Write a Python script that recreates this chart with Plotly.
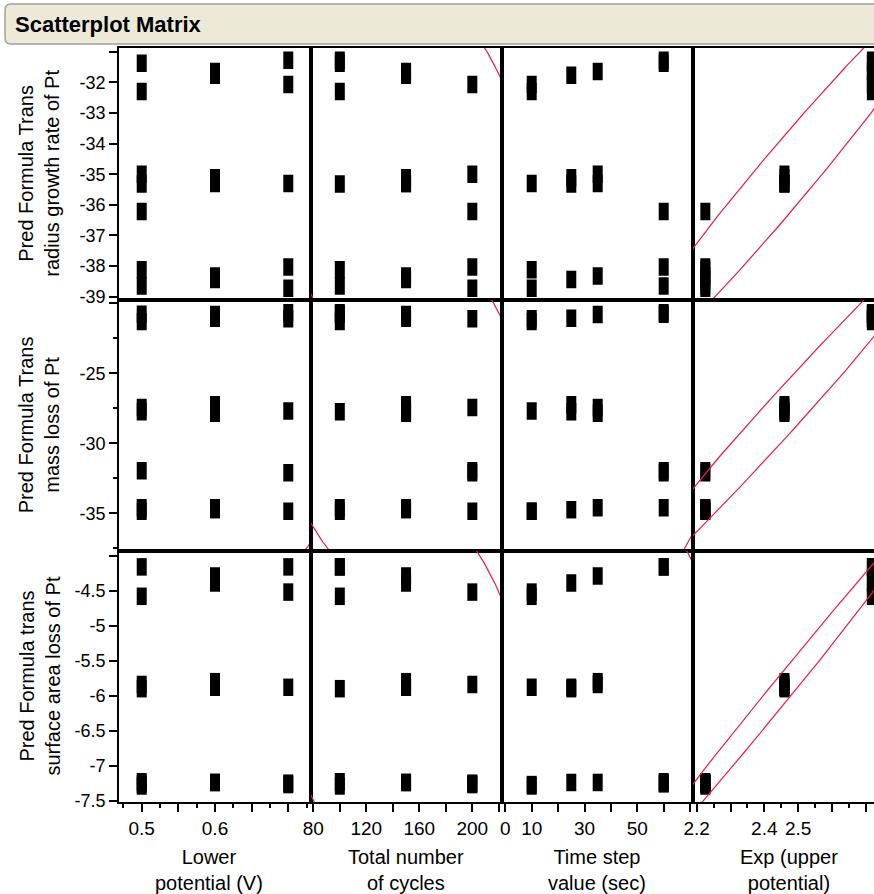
import numpy as np
import plotly.graph_objects as go
from plotly.subplots import make_subplots

# ---- run settings (factors) ----
lower_potential = [0.5, 0.7, 0.6, 0.6, 0.5, 0.7, 0.5, 0.5, 0.6, 0.6, 0.7, 0.5, 0.5, 0.7, 0.6, 0.6, 0.5, 0.7]
total_cycles = [100, 100, 150, 150, 100, 200, 200, 100, 150, 150, 150, 200, 100, 200, 150, 150, 100, 200]
time_step = [60, 60, 25, 35, 10, 10, 35, 25, 25, 35, 10, 60, 10, 60, 25, 35, 60, 10]
upper_potential = [1.0, 1.0, 1.0, 1.0, 1.0, 1.0, 0.9, 0.9, 0.9, 0.9, 0.9, 0.8, 0.8, 0.8, 0.8, 0.8, 0.8, 0.8]

# ---- predicted (transformed) responses ----
pred_radius = [-31.38, -31.28, -31.77, -31.65, -32.30, -32.07, -35.00, -35.32, -35.12, -35.30, -35.30,
               -36.22, -38.12, -38.03, -38.44, -38.32, -38.65, -38.72]
pred_mass = [-20.78, -20.68, -21.07, -20.81, -21.30, -21.10, -27.45, -27.75, -27.25, -27.85, -27.70,
             -31.96, -34.85, -32.10, -34.74, -34.60, -34.60, -34.85]
pred_area = [-4.16, -4.16, -4.39, -4.29, -4.58, -4.52, -5.84, -5.90, -5.88, -5.80, -5.88,
             -7.26, -7.29, -7.25, -7.24, -7.24, -7.23, -7.27]

x_titles = ["Lower<br>potential (V)", "Total number<br>of cycles", "Time step<br>value (sec)", "Exp (upper<br>potential)"]
y_titles = ["Pred Formula Trans<br>radius growth rate of Pt", "Pred Formula Trans<br>mass loss of Pt",
            "Pred Formula trans<br>surface area loss of Pt"]

x_tickvals = [[0.5, 0.55, 0.6, 0.65, 0.7], [80, 100, 120, 140, 160, 180, 200, 220],
              [0, 10, 20, 30, 40, 50, 60, 70], [2.2, 2.3, 2.4, 2.5, 2.6, 2.7]]
x_ticktext = [["0.5", "", "0.6", "", ""], ["80", "", "120", "", "160", "", "200", ""],
              ["0", "10", "", "30", "", "50", "", ""], ["2.2", "", "2.4", "2.5", "", ""]]
x_minor = [[0.475, 0.525, 0.575, 0.625, 0.675, 0.725], [], [], [2.25, 2.35, 2.45, 2.55, 2.65]]
y_tickvals = [[-31, -32, -33, -34, -35, -36, -37, -38, -39], [-20, -25, -30, -35],
              [-4, -4.5, -5, -5.5, -6, -6.5, -7, -7.5]]
y_ticktext = [["", "-32", "-33", "-34", "-35", "-36", "-37", "-38", "-39"], ["", "-25", "-30", "-35"],
              ["", "-4.5", "-5", "-5.5", "-6", "-6.5", "-7", "-7.5"]]
y_minor = [[], [-22.5, -27.5, -32.5, -37.5], []]

x_data = [np.array(lower_potential, float), np.array(total_cycles, float),
          np.array(time_step, float), np.exp(np.array(upper_potential, float))]
y_data = [np.array(pred_radius), np.array(pred_mass), np.array(pred_area)]

# ---- page geometry (pixels) ----
W, H = 874, 894
col_px = [(119, 311), (311, 502), (502, 693), (693, 874)]
row_px = [(48, 299.5), (299.5, 551), (551, 802)]
x_ranges = [[0.4690, 0.7310], [78.26, 222.4], [-1.25, 71.1], [2.18905, 2.7246]]
y_ranges = [[-39.091, -30.88], [-37.69, -19.73], [-7.519, -3.933]]
ELLIPSE_LEVEL = 0.95


def px(x):
    return x / W


def py(y):
    return 1 - y / H


def density_ellipse(x, y, level=ELLIPSE_LEVEL, n=400):
    """Bivariate-normal density contour enclosing `level` of the probability mass."""
    cov = np.cov(x, y)
    L = np.linalg.cholesky(cov)
    r = np.sqrt(-2 * np.log(1 - level))
    t = np.linspace(0, 2 * np.pi, n)
    pts = L @ np.vstack([np.cos(t), np.sin(t)]) * r
    return x.mean() + pts[0], y.mean() + pts[1]


FONT = "Liberation Sans, Arial, sans-serif"
fig = make_subplots(rows=3, cols=4, horizontal_spacing=0, vertical_spacing=0)

for r in range(3):
    for c in range(4):
        ex, ey = density_ellipse(x_data[c], y_data[r])
        fig.add_trace(go.Scatter(x=x_data[c], y=y_data[r], mode="markers",
                                 marker=dict(symbol="line-ns", size=12.5, color="black",
                                             line=dict(width=10, color="black"))),
                      row=r + 1, col=c + 1)
        fig.add_trace(go.Scatter(x=ex, y=ey, mode="lines", hoverinfo="skip",
                                 line=dict(color="#EC1C48", width=1.2)), row=r + 1, col=c + 1)

        idx = r * 4 + c + 1
        xa = "xaxis" if idx == 1 else f"xaxis{idx}"
        ya = "yaxis" if idx == 1 else f"yaxis{idx}"
        xcfg = dict(domain=[px(col_px[c][0]), px(col_px[c][1])], range=x_ranges[c],
                    showline=True, mirror=True, linecolor="black", linewidth=1.6,
                    showgrid=False, zeroline=False, automargin=False)
        ycfg = dict(domain=[py(row_px[r][1]), py(row_px[r][0])], range=y_ranges[r],
                    showline=True, mirror=True, linecolor="black", linewidth=1.6,
                    showgrid=False, zeroline=False, automargin=False)
        if r == 2:
            xcfg.update(ticks="outside", ticklen=8, tickwidth=1.5, tickcolor="black",
                        tickmode="array", tickvals=x_tickvals[c], ticktext=x_ticktext[c],
                        tickfont=dict(family=FONT, size=19, color="black"),
                        minor=dict(tickvals=x_minor[c], ticks="outside", ticklen=4,
                                   tickwidth=1.5, tickcolor="black"))
        else:
            xcfg.update(showticklabels=False, ticks="")
        if c == 0:
            ycfg.update(ticks="outside", ticklen=8, tickwidth=1.5, tickcolor="black",
                        tickmode="array", tickvals=y_tickvals[r], ticktext=y_ticktext[r],
                        tickfont=dict(family=FONT, size=18, color="black"),
                        minor=dict(tickvals=y_minor[r], ticks="outside", ticklen=4,
                                   tickwidth=1.5, tickcolor="black"))
        else:
            ycfg.update(showticklabels=False, ticks="")
        fig.layout[xa].update(xcfg)
        fig.layout[ya].update(ycfg)

# ---- title bar ----
x0, x1, y0, y1, rad = 5, 900, 4, 44, 6
path = (f"M{px(x0 + rad)},{py(y0)} L{px(x1)},{py(y0)} L{px(x1)},{py(y1)} L{px(x0 + rad)},{py(y1)} "
        f"Q{px(x0)},{py(y1)} {px(x0)},{py(y1 - rad)} L{px(x0)},{py(y0 + rad)} "
        f"Q{px(x0)},{py(y0)} {px(x0 + rad)},{py(y0)} Z")
fig.add_shape(type="path", path=path, xref="paper", yref="paper",
              fillcolor="#ECE9D8", line=dict(color="#A3A196", width=1.5), layer="below")

annotations = [dict(text="<b>Scatterplot Matrix</b>", x=px(13), y=py(25), xref="paper", yref="paper",
                    xanchor="left", yanchor="middle", showarrow=False,
                    font=dict(family=FONT, size=22, color="black"))]

x_title_centers = [209, 406, 597, 789]
for c in range(4):
    annotations.append(dict(text=x_titles[c], x=px(x_title_centers[c]), y=py(870), xref="paper",
                            yref="paper", xanchor="center", yanchor="middle", showarrow=False,
                            align="center", font=dict(family=FONT, size=20, color="black")))
for r in range(3):
    yc = (row_px[r][0] + row_px[r][1]) / 2
    annotations.append(dict(text=y_titles[r], x=px(39), y=py(yc), xref="paper", yref="paper",
                            xanchor="center", yanchor="middle", showarrow=False, textangle=-90,
                            align="center", font=dict(family=FONT, size=20, color="black")))

fig.update_layout(width=W, height=H, margin=dict(l=0, r=0, t=0, b=0, pad=0, autoexpand=False),
                  plot_bgcolor="white", paper_bgcolor="white", showlegend=False,
                  annotations=annotations)

fig.write_html("out.html")
